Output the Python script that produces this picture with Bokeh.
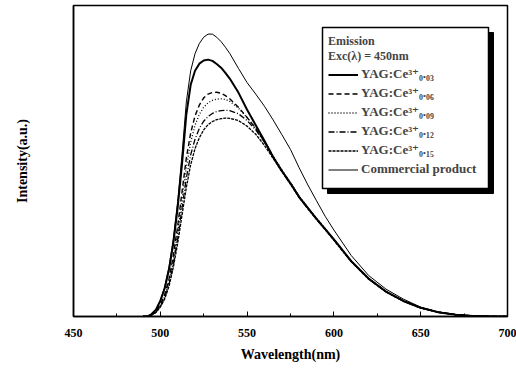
from bokeh.plotting import figure
from bokeh.models import Range1d, Legend, LegendItem, BoxAnnotation, FixedTicker
from bokeh.embed import file_html
from bokeh.resources import INLINE

# ---------------- data ----------------
wavelength = [490, 492.5, 495, 497.5, 500, 502.5, 505, 507.5, 510, 512.5, 515, 517.5, 520,
              522.5, 525, 527.5, 530, 532.5, 535, 537.5, 540, 545, 550, 555, 560, 565, 570,
              575, 580, 585, 590, 595, 600, 610, 620, 630, 640, 650, 660, 670, 680, 690, 700]

ce_003 = [0, 0, 0.8, 2.2, 5, 9, 15, 23.5, 35, 49, 65, 74.5, 79,
          81.3, 82.3, 82.6, 82.2, 81.2, 80, 78.3, 76.5, 72, 66.5, 61.5, 56.5, 51.3, 46.8,
          42.8, 38.4, 34.9, 31.4, 28.1, 24.8, 17.8, 12.2, 8, 5, 2.8, 1.4, 0.6, 0.2, 0.05, 0]

ce_006 = [0, 0, 0.6, 1.7, 3.8, 7, 12, 19.5, 29, 40, 51, 59, 64.5,
          68, 70.3, 71.5, 72, 72.1, 71.8, 71, 70, 67.3, 64, 60.5, 56.2, 51.3, 46.9,
          42.8, 38.4, 34.8, 31.4, 28.1, 24.7, 17.7, 12.1, 8, 5, 2.8, 1.4, 0.6, 0.2, 0.05, 0]

ce_009 = [0, 0, 0.5, 1.5, 3.4, 6.3, 11, 18, 27, 37.5, 48, 56, 61.5,
          65, 67.3, 68.7, 69.5, 69.9, 70, 69.8, 69.2, 67, 64, 60.5, 56.5, 51.6, 47.2,
          43, 38.7, 35, 31.6, 28.3, 24.9, 17.8, 12.2, 8.1, 5.1, 2.9, 1.5, 0.6, 0.2, 0.05, 0]

ce_012 = [0, 0, 0.5, 1.4, 3.2, 6, 10.3, 16.8, 25, 34.8, 44.5, 52, 57,
          60.5, 62.8, 64.3, 65.3, 65.9, 66.2, 66.3, 66.2, 65.2, 63, 60, 56, 51.3, 47,
          42.8, 38.5, 34.8, 31.4, 28.1, 24.7, 17.7, 12.1, 8, 5, 2.8, 1.4, 0.6, 0.2, 0.05, 0]

ce_015 = [0, 0, 0.4, 1.3, 3, 5.6, 9.7, 15.8, 23.5, 32.5, 41.5, 48.8, 54,
          57.5, 60, 61.7, 62.7, 63.3, 63.6, 63.8, 63.7, 63, 61.2, 58.6, 55, 50.8, 46.6,
          42.5, 38.2, 34.6, 31.2, 27.9, 24.5, 17.6, 12, 7.9, 4.9, 2.7, 1.3, 0.5, 0.2, 0.05, 0]

commercial = [0, 0, 0.8, 2.3, 5.2, 9.5, 16, 25, 37, 52, 69, 79, 84.5,
              87.8, 89.8, 90.8, 90.8, 89.8, 88.4, 86.6, 84.6, 79.8, 75.2, 71.5, 67.6, 63.2, 58.5,
              53.7, 47.8, 42.3, 37.2, 32.2, 27.8, 19.6, 13.2, 8.8, 5.6, 3.0, 1.5, 0.7, 0.25, 0.05, 0]

x_ticks = [450, 500, 550, 600, 650, 700]
x_minor = [475, 525, 575, 625, 675]

labels = ["YAG:Ce\u00b3\u207a\u2080.\u2080\u2083",
          "YAG:Ce\u00b3\u207a\u2080.\u2080\u2086",
          "YAG:Ce\u00b3\u207a\u2080.\u2080\u2089",
          "YAG:Ce\u00b3\u207a\u2080.\u2081\u2082",
          "YAG:Ce\u00b3\u207a\u2080.\u2081\u2085",
          "Commercial product"]
legend_title = "Emission\nExc(\u03bb) = 450nm"

FONT = "Liberation Serif"
FONT_LEG = "Liberation Serif, DejaVu Serif"

p = figure(width=516, height=368, output_backend="svg", toolbar_location=None,
           x_range=Range1d(450, 700), y_range=Range1d(0, 100),
           min_border_left=73, min_border_right=9, min_border_top=5, min_border_bottom=52,
           background_fill_color="white", border_fill_color="white")
p.grid.visible = False
p.outline_line_color = "black"
p.outline_line_width = 1.5

# x axis
xa = p.xaxis[0]
xa.ticker = FixedTicker(ticks=x_ticks, minor_ticks=x_minor)
xa.axis_line_color = "black"
xa.axis_line_width = 1.5
xa.major_tick_in = 5
xa.major_tick_out = 0
xa.minor_tick_in = 3
xa.minor_tick_out = 0
xa.major_tick_line_color = "black"
xa.minor_tick_line_color = "black"
xa.major_label_text_font = FONT
xa.major_label_text_font_style = "bold"
xa.major_label_text_font_size = "12px"
xa.major_label_text_color = "black"
xa.major_label_standoff = 12
xa.axis_label = "Wavelength(nm)"
xa.axis_label_text_font = FONT
xa.axis_label_text_font_style = "bold"
xa.axis_label_text_font_size = "14px"
xa.axis_label_text_color = "black"
xa.axis_label_standoff = 7

# y axis (no ticks)
ya = p.yaxis[0]
ya.ticker = FixedTicker(ticks=[])
ya.axis_line_color = "black"
ya.axis_line_width = 1.5
ya.major_tick_out = 0
ya.minor_tick_out = 0
ya.axis_label = "Intensity(a.u.)"
ya.axis_label_text_font = FONT
ya.axis_label_text_font_style = "bold"
ya.axis_label_text_font_size = "14px"
ya.axis_label_text_color = "black"
ya.axis_label_standoff = 44

series = [ce_003, ce_006, ce_009, ce_012, ce_015, commercial]
widths = [2.0, 1.4, 1.3, 1.3, 1.3, 1.0]
dashes = ["solid", "5 3", "1 2", "6 2 1 2", "3 1", "solid"]
renderers = []
for ys, w, d in zip(series, widths, dashes):
    r = p.line(wavelength, ys, line_color="black", line_width=w, line_dash=d)
    renderers.append(r)

# legend frame with shadow
shadow = BoxAnnotation(left=254, right=420, top=284, bottom=123,
                       left_units="screen", right_units="screen", top_units="screen", bottom_units="screen",
                       fill_color="black", fill_alpha=1, line_color="black", line_alpha=1)
box = BoxAnnotation(left=249, right=415, top=289, bottom=128,
                    left_units="screen", right_units="screen", top_units="screen", bottom_units="screen",
                    fill_color="white", fill_alpha=1, line_color="black", line_width=1.5, line_alpha=1)
p.add_layout(shadow)
p.add_layout(box)

items = [LegendItem(label=lab, renderers=[r]) for lab, r in zip(labels, renderers)]
legend = Legend(items=items, location=(249, 133), title=legend_title,
                title_text_font=FONT, title_text_font_style="bold", title_text_font_size="12px",
                title_text_line_height=1.0, title_standoff=2,
                label_text_font=FONT_LEG, label_text_font_style="bold", label_text_font_size="13px",
                glyph_width=30, glyph_height=15, label_height=15, label_standoff=3,
                spacing=3, padding=6, margin=0,
                background_fill_alpha=0, border_line_alpha=0)
p.add_layout(legend)

open("out.html", "w").write(file_html(p, INLINE))
